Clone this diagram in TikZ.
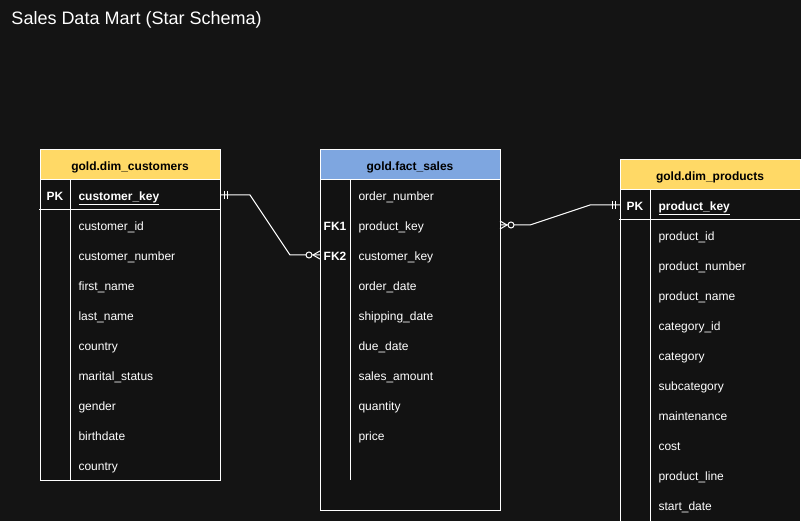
\documentclass[tikz,border=0pt]{standalone}
\usepackage{fontspec}
\setmainfont{Liberation Sans}
\definecolor{bg}{HTML}{141414}
\definecolor{cell}{HTML}{121212}
\definecolor{dimhead}{HTML}{FFD966}
\definecolor{facthead}{HTML}{7EA6E0}
\begin{document}
\begin{tikzpicture}[x=1pt,y=-1pt,line width=1pt,
  field/.style={anchor=west,inner sep=0pt,text height=10.6pt,text depth=0pt,color=white},
  keycol/.style={inner sep=0pt,text height=10.6pt,text depth=0pt,color=white,font=\bfseries},
  head/.style={inner sep=0pt,text height=10.6pt,text depth=0pt,color=black,font=\bfseries},
  rel/.style={draw=white,line width=1pt}]
\fontsize{12}{14}\selectfont
\useasboundingbox (0,0) rectangle (801,521);
\fill[color=bg] (0,0) rectangle (801,521);
\clip (0,0) rectangle (801,521);
\node[anchor=west,inner sep=0pt,color=white,font=\fontsize{18}{21}\selectfont] (title) at (11,20) {Sales Data Mart (Star Schema)};
% customers
\filldraw[fill=cell,draw=white] (40,150) rectangle (220,480);
\filldraw[fill=dimhead,draw=white] (40,150) rectangle (220,180);
\draw[white] (39,210) -- (221,210);
\draw[white] (70,180) -- (70,480);
\node[head] (custh) at (130,165) {gold.dim\_customers};
\node[keycol] (custpk) at (55,195) {PK};
\node[field,font=\bfseries] (custkey) at (78,195) {\underline{customer\_key}};
\foreach \name [count=\i] in {customer\_id,customer\_number,first\_name,last\_name,country,marital\_status,gender,birthdate,country}
  \node[field] (cust\i) at (78,195+30*\i) {\name};
% fact
\filldraw[fill=cell,draw=white] (320,150) rectangle (500,510);
\filldraw[fill=facthead,draw=white] (320,150) rectangle (500,180);
\draw[white] (350,180) -- (350,480);
\node[head] (salesh) at (410,165) {gold.fact\_sales};
\foreach \name [count=\i] in {order\_number,product\_key,customer\_key,order\_date,shipping\_date,due\_date,sales\_amount,quantity,price}
  \node[field] (sales\i) at (358,165+30*\i) {\name};
\node[keycol] (fk1) at (335,225) {FK1};
\node[keycol] (fk2) at (335,255) {FK2};
% products
\filldraw[fill=cell,draw=white] (620,160) rectangle (800,540);
\filldraw[fill=dimhead,draw=white] (620,160) rectangle (800,190);
\draw[white] (619,220) -- (801,220);
\draw[white] (650,190) -- (650,540);
\node[head] (prodh) at (710,175) {gold.dim\_products};
\node[keycol] (prodpk) at (635,205) {PK};
\node[field,font=\bfseries] (prodkey) at (658,205) {\underline{product\_key}};
\foreach \name [count=\i] in {product\_id,product\_number,product\_name,category\_id,category,subcategory,maintenance,cost,product\_line,start\_date}
  \node[field] (prod\i) at (658,205+30*\i) {\name};
% relations
\coordinate (c-out) at (220,195);
\coordinate (f-in) at (320,255);
\coordinate (f-out) at (500,225);
\coordinate (p-in) at (620,205);
\draw[rel] (c-out) -- ++(30,0) -- ([xshift=-30pt]f-in) -- (f-in);
\draw[rel] ([xshift=4pt,yshift=4pt]c-out) -- ([xshift=4pt,yshift=-4pt]c-out);
\draw[rel] ([xshift=7pt,yshift=4pt]c-out) -- ([xshift=7pt,yshift=-4pt]c-out);
\draw[rel] ([xshift=-7pt]f-in) -- ([yshift=4pt]f-in);
\draw[rel] ([xshift=-7pt]f-in) -- ([yshift=-4pt]f-in);
\filldraw[rel,fill=bg] ([xshift=-11pt]f-in) circle (3pt);
\draw[rel] (f-out) -- ++(30,0) -- ([xshift=-30pt]p-in) -- (p-in);
\draw[rel] ([xshift=-5pt,yshift=4pt]p-in) -- ([xshift=-5pt,yshift=-4pt]p-in);
\draw[rel] ([xshift=-8pt,yshift=4pt]p-in) -- ([xshift=-8pt,yshift=-4pt]p-in);
\draw[rel] ([xshift=7pt]f-out) -- ([yshift=4pt]f-out);
\draw[rel] ([xshift=7pt]f-out) -- ([yshift=-4pt]f-out);
\filldraw[rel,fill=bg] ([xshift=11pt]f-out) circle (3pt);
\end{tikzpicture}
\end{document}
